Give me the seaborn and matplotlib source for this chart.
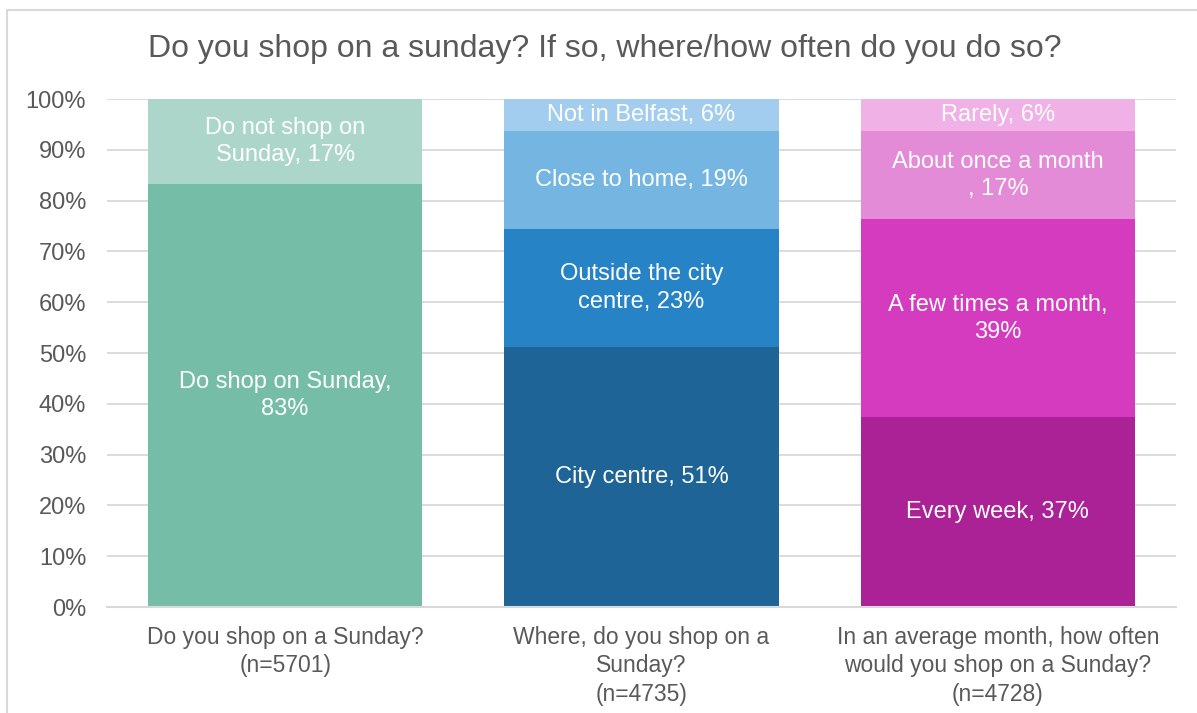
import matplotlib
matplotlib.use("Agg")
import matplotlib.pyplot as plt
import seaborn as sns
import pandas as pd
import numpy as np
from matplotlib.patches import Rectangle

sns.set_theme(style="white")
plt.rcParams['font.family'] = ['Liberation Sans', 'DejaVu Sans']

categories = ["Do you shop on a Sunday?\n(n=5701)",
              "Where, do you shop on a\nSunday?\n(n=4735)",
              "In an average month, how often\nwould you shop on a Sunday?\n(n=4728)"]

# segment values (bottom to top) per question
seg_values = [
    [83.2, 16.8],
    [51.2, 23.2, 19.3, 6.3],
    [37.4, 38.9, 17.4, 6.3],
]
seg_labels = [
    ["Do shop on Sunday,\n83%", "Do not shop on\nSunday, 17%"],
    ["City centre, 51%", "Outside the city\ncentre, 23%", "Close to home, 19%", "Not in Belfast, 6%"],
    ["Every week, 37%", "A few times a month,\n39%", "About once a month\n, 17%", "Rarely, 6%"],
]
seg_colors = [
    ["#75BDA7", "#ACD6CA"],
    ["#1F6496", "#2683C6", "#75B5E2", "#A2CDEE"],
    ["#AB2196", "#D43BBF", "#E48BD8", "#EFB1E6"],
]
title = "Do you shop on a sunday? If so, where/how often do you do so?"

fig = plt.figure(figsize=(11.97, 7.13), dpi=100)
ax = fig.add_axes([107/1197, 1-607/713, (1176-107)/1197, (607-99)/713])

# border of chart area
fig.patches.append(Rectangle((7/1197, -0.01), 1.2, (713-10)/713 + 0.01, transform=fig.transFigure,
                             fill=False, edgecolor="#D9D9D9", linewidth=1.5))

nlayers = max(len(v) for v in seg_values)
# cumulative tops; draw from top layer to bottom so lower layers overlay
for k in range(nlayers - 1, -1, -1):
    heights, cols = [], []
    for i, vals in enumerate(seg_values):
        kk = min(k, len(vals) - 1)
        heights.append(sum(vals[:kk + 1]))
        cols.append(seg_colors[i][kk])
    df = pd.DataFrame({"q": categories, "v": heights})
    sns.barplot(data=df, x="q", y="v", hue="q", palette=cols, legend=False,
                width=274/356, saturation=1, ax=ax, zorder=2, linewidth=0)

# labels
for i, vals in enumerate(seg_values):
    cum = np.cumsum([0] + vals)
    for j, v in enumerate(vals):
        ax.text(i, (cum[j] + cum[j + 1]) / 2, seg_labels[i][j], ha="center", va="center",
                color="white", fontsize=17, linespacing=1.3, zorder=5)

ax.set_ylim(0, 100)
ax.set_xlim(-0.5, 2.5)
ax.set_yticks(np.arange(0, 101, 10))
ax.set_yticklabels([f"{t}%" for t in range(0, 101, 10)])
ax.yaxis.grid(True, color="#D9D9D9", linewidth=1.3)
ax.set_axisbelow(True)
for s in ["top", "right", "left"]:
    ax.spines[s].set_visible(False)
ax.spines["bottom"].set_color("#D9D9D9")
ax.spines["bottom"].set_linewidth(1.5)
ax.tick_params(axis="y", length=0, labelsize=17, labelcolor="#595959", pad=15)
ax.tick_params(axis="x", length=0, labelsize=16.5, labelcolor="#595959", pad=14)
for t in ax.get_xticklabels():
    t.set_linespacing(1.28)
ax.set_xlabel("")
ax.set_ylabel("")

fig.text(605/1197, 1-49/713, title, ha="center", va="center", fontsize=23, color="#595959")

fig.savefig("out.png", dpi=100)
